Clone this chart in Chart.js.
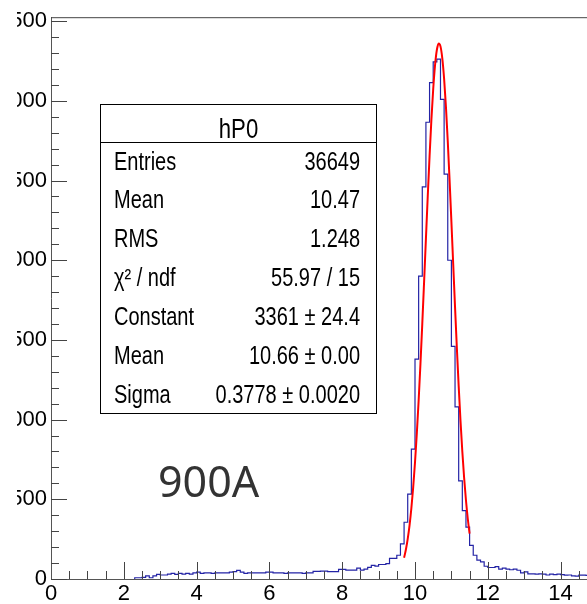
<!DOCTYPE html>
<html>
<head>
<meta charset="utf-8">
<script src="https://cdn.jsdelivr.net/npm/chart.js@4.4.1/dist/chart.umd.min.js"></script>
<style>
html, body { margin: 0; padding: 0; background: #fff; overflow: hidden; width: 587px; height: 604px; }
#hist { position: absolute; left: 17px; top: 0; }
</style>
</head>
<body>
<canvas id="hist" width="600" height="604"></canvas>
<script>
// histogram hP0: bins of 0.1 starting at 2.3
const binStart = 2.3;
const binWidth = 0.1;
const counts = [
    8, 8, 8, 10, 19, 8, 19, 29, 25, 25,
    31, 35, 29, 35, 31, 35, 31, 39, 43, 35,
    39, 39, 35, 39, 39, 39, 39, 43, 46, 54,
    43, 35, 39, 39, 39, 39, 39, 43, 43, 39,
    39, 39, 35, 39, 39, 39, 39, 35, 39, 39,
    48, 48, 50, 50, 46, 46, 46, 60, 60, 56,
    56, 56, 68, 56, 62, 73, 85, 81, 91, 91,
    97, 129, 129,
    149, 221, 356, 533, 815, 1380, 1900, 2460, 2866, 3114,
    3245, 3262, 3010, 2540, 2000, 1460, 1080, 616, 429,
    325, 211, 149, 118, 108,
    80, 72, 72, 78, 62, 68, 62, 58, 62, 55,
    38, 45, 32, 32, 30, 32, 30, 25, 30, 28,
    30, 28, 24, 25, 19, 18, 24, 24, 22, 20
];

// gaus fit curve (red)
const fitX = [9.70, 9.75, 9.80, 9.85, 9.90, 9.95, 10.00, 10.05, 10.10, 10.15,
              10.20, 10.25, 10.30, 10.35, 10.40, 10.45, 10.50, 10.55, 10.60, 10.65,
              10.70, 10.75, 10.80, 10.85, 10.90, 10.95, 11.00, 11.05, 11.10, 11.15,
              11.20, 11.25, 11.30, 11.35, 11.40, 11.45, 11.50];
const fitY = [133, 185, 252, 337, 444, 575, 731, 913, 1120, 1351,
              1601, 1865, 2134, 2400, 2652, 2880, 3073, 3222, 3319, 3360,
              3342, 3267, 3138, 2962, 2747, 2503, 2242, 1973, 1706, 1449,
              1210, 993, 800, 634, 494, 378, 284];

// axis tick labels
const xTickValues = [0, 2, 4, 6, 8, 10, 12, 14];
const yTickValues = [0, 500, 1000, 1500, 2000, 2500, 3000, 3500];

// stats box
const histName = 'hP0';
const statsLabels = ['Entries', 'Mean', 'RMS', 'χ² / ndf', 'Constant', 'Mean', 'Sigma'];
const statsValues = ['36649', '10.47', '1.248', '55.97 / 15', '3361 ± 24.4', '10.66 ± 0.00', '0.3778 ± 0.0020'];
const runLabel = '900A';

const xMin = 0, xMax = 15;
const yMin = 0, yMax = 3525;

const tickFont = "'Liberation Sans Narrow', 'Liberation Sans', Arial, sans-serif";

// step points for the histogram outline
const histPoints = [{ x: binStart, y: 0 }];
counts.forEach((c, i) => histPoints.push({ x: binStart + i * binWidth, y: c }));
histPoints.push({ x: binStart + counts.length * binWidth, y: counts[counts.length - 1] });

const fitPoints = fitX.map((x, i) => ({ x: x, y: fitY[i] }));

function narrowText(ctx, text, x, y, align, sx) {
    ctx.save();
    ctx.translate(x, y);
    ctx.scale(sx, 1);
    ctx.textAlign = align;
    ctx.fillText(text, 0, 0);
    ctx.restore();
}

// inner ticks (ROOT style) + top frame
const frameTicks = {
    id: 'frameTicks',
    afterDraw(chart) {
        const ctx = chart.ctx;
        const area = chart.chartArea;
        const xs = chart.scales.x, ys = chart.scales.y;
        ctx.save();
        ctx.strokeStyle = '#444';
        ctx.lineWidth = 1;
        ctx.beginPath();
        for (let v = 0; v <= 3500; v += 100) {
            const py = Math.round(ys.getPixelForValue(v)) + 0.5;
            const len = v % 500 === 0 ? 16 : 8;
            ctx.moveTo(area.left, py);
            ctx.lineTo(area.left + len, py);
        }
        for (let v = 0.5; v <= 15; v += 0.5) {
            const px = Math.round(xs.getPixelForValue(v)) + 0.5;
            const len = v % 2 === 0 ? 17 : 8;
            ctx.moveTo(px, area.bottom);
            ctx.lineTo(px, area.bottom - len);
        }
        ctx.moveTo(area.left, area.top + 0.5);
        ctx.lineTo(area.right, area.top + 0.5);
        ctx.stroke();
        ctx.restore();
    }
};

const statsBox = {
    id: 'statsBox',
    afterDraw(chart) {
        const ctx = chart.ctx;
        const L = 83.5, R = 359.5, T = 104.5, B = 413.5, sep = 142.5;
        const rowH = 38.9;
        ctx.save();
        ctx.fillStyle = '#fff';
        ctx.fillRect(L, T, R - L, B - T);
        ctx.strokeStyle = '#000';
        ctx.lineWidth = 1;
        ctx.strokeRect(L, T, R - L, B - T);
        ctx.beginPath();
        ctx.moveTo(L, sep);
        ctx.lineTo(R, sep);
        ctx.stroke();

        ctx.fillStyle = '#000';
        ctx.textBaseline = 'alphabetic';
        ctx.font = "27px 'Liberation Sans', Arial, sans-serif";
        narrowText(ctx, histName, (L + R) / 2, 138, 'center', 0.82);
        ctx.font = "25px 'Liberation Sans', Arial, sans-serif";
        statsLabels.forEach((lab, i) => {
            const by = 169.5 + i * rowH;
            narrowText(ctx, lab, 97, by, 'left', 0.8);
            narrowText(ctx, statsValues[i], 343, by, 'right', 0.8);
        });

        ctx.fillStyle = '#333';
        ctx.font = "43px 'Noto Sans', 'Open Sans', sans-serif";
        ctx.textAlign = 'left';
        ctx.fillText(runLabel, 141, 497);
        ctx.restore();
    }
};

const chart = new Chart(document.getElementById('hist'), {
    type: 'line',
    data: {
        datasets: [
            {
                label: 'gaus',
                data: fitPoints,
                borderColor: '#ff0000',
                borderWidth: 2,
                pointRadius: 0,
                cubicInterpolationMode: 'monotone',
                fill: false,
                order: 0
            },
            {
                label: histName,
                data: histPoints,
                borderColor: 'rgb(35, 35, 165)',
                borderWidth: 1.2,
                pointRadius: 0,
                stepped: 'after',
                fill: false,
                order: 1
            }
        ]
    },
    options: {
        responsive: false,
        animation: false,
        events: [],
        layout: { padding: { top: 12, right: 20, left: 0, bottom: 0 } },
        plugins: {
            legend: { display: false },
            tooltip: { enabled: false }
        },
        scales: {
            x: {
                type: 'linear',
                min: xMin,
                max: xMax,
                afterBuildTicks: s => { s.ticks = xTickValues.map(v => ({ value: v })); },
                afterFit: s => { s.height = 25; },
                grid: { display: false, drawTicks: false },
                border: { display: true, color: '#555', width: 1 },
                ticks: {
                    autoSkip: false,
                    maxRotation: 0,
                    padding: 2,
                    color: '#000',
                    font: { family: tickFont, size: 22 }
                }
            },
            y: {
                type: 'linear',
                min: yMin,
                max: yMax,
                afterBuildTicks: s => { s.ticks = yTickValues.map(v => ({ value: v })); },
                afterFit: s => { s.width = 34; },
                grid: { display: false, drawTicks: false },
                border: { display: true, color: '#555', width: 1 },
                ticks: {
                    autoSkip: false,
                    padding: 4,
                    color: '#000',
                    font: { family: tickFont, size: 22 }
                }
            }
        }
    },
    plugins: [frameTicks, statsBox]
});
</script>
</body>
</html>
